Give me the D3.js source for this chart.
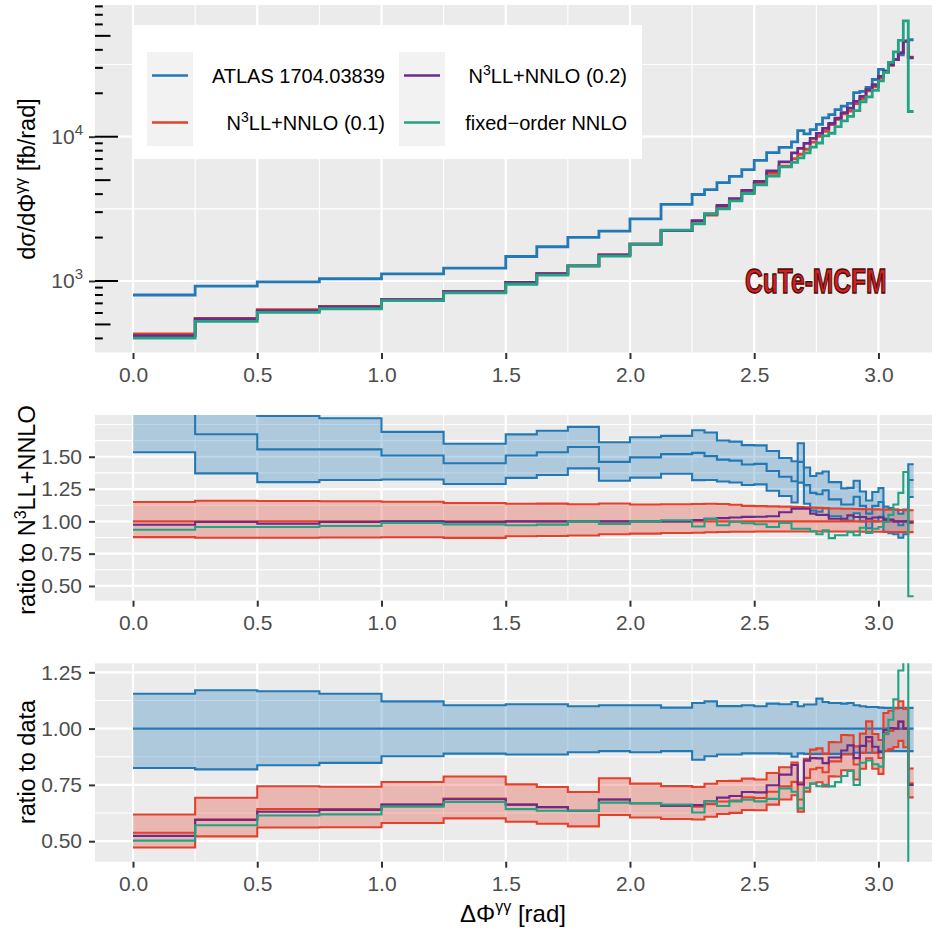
<!DOCTYPE html>
<html><head><meta charset="utf-8">
<script src="https://cdn.jsdelivr.net/npm/d3@7"></script>
<style>
body{margin:0;background:#fff}
svg{display:block}
text{font-family:"Liberation Sans",Arial,Helvetica,sans-serif}
</style>
</head><body>
<svg id="c" width="932" height="935"></svg>
<script>
// ---------- data ----------
const binEdges = [0,0.25,0.5,0.75,1.0,1.25,1.5,1.625,1.75,1.875,2.0,2.125,2.25,2.3,2.35,2.4,2.45,2.5,2.55,2.6,2.65,2.675,2.7,2.725,2.75,2.775,2.8,2.825,2.85,2.875,2.9,2.925,2.95,2.975,3.0,3.02,3.04,3.06,3.08,3.1,3.12,3.14159];
// N3LL+NNLO (0.1) cross section, fb/rad
const n3ll01 = [430,550,634,666,742,847,979,1125,1273,1517,1803,2233,2598,2860,3254,3607,4103,4738,5575,6262,7037,7557,8183,9184,10048,10886,12147,13167,14412,15077,16973,18385,20755,22252,25466,28026,31214,34260,38130,46000,35600];
// ATLAS data / N3LL+NNLO (0.1)
const atlasRatio = [1.86,1.674,1.557,1.557,1.51,1.45,1.51,1.535,1.575,1.46,1.495,1.52,1.53,1.505,1.478,1.47,1.44,1.445,1.39,1.345,1.31,1.46,1.28,1.22,1.21,1.24,1.17,1.17,1.13,1.13,1.19,1.12,1.06,1.12,1.15,1.02,1.01,1.0,0.97,1.0,1.32];
// N3LL+NNLO (0.2) / N3LL+NNLO (0.1)
const n3ll02Ratio = [0.974,0.995,0.982,0.995,1.0,0.995,1.0,1.0,1.0,1.0,1.0,1.0,1.01,1.02,1.025,1.03,1.035,1.036,1.04,1.07,1.098,1.098,1.098,1.06,1.05,1.05,1.02,1.02,1.02,1.046,1.034,1.034,1.02,1.03,1.03,1.013,1.013,1.0,1.0,1.0,0.99];
// fixed-order NNLO / N3LL+NNLO (0.1)
const nnloRatio = [0.935,0.956,0.956,0.964,0.987,0.977,0.97,0.975,1.0,0.98,1.0,1.008,0.96,1.02,0.97,0.995,0.985,0.978,0.956,0.987,0.943,0.943,0.943,0.923,0.90,0.93,0.87,0.892,0.892,0.917,0.892,0.95,0.91,0.943,0.956,0.995,1.05,1.13,1.22,1.382,0.42];
// ATLAS relative uncertainty band
const atlasUp = [1.155,1.17,1.166,1.155,1.121,1.104,1.108,1.108,1.099,1.104,1.104,1.093,1.114,1.121,1.10,1.10,1.104,1.099,1.111,1.108,1.118,1.099,1.107,1.107,1.133,1.118,1.114,1.114,1.111,1.114,1.104,1.099,1.096,1.096,1.093,1.092,1.092,1.092,1.092,1.092,1.092];
const atlasDown = [0.825,0.819,0.837,0.848,0.877,0.889,0.885,0.885,0.895,0.90,0.895,0.90,0.862,0.877,0.885,0.885,0.89,0.89,0.89,0.889,0.875,0.89,0.888,0.888,0.888,0.888,0.888,0.888,0.888,0.888,0.893,0.893,0.893,0.893,0.90,0.90,0.90,0.90,0.90,0.90,0.90];
// N3LL+NNLO (0.1) relative scale-uncertainty band
const n3llUp = [1.15,1.16,1.158,1.155,1.152,1.142,1.136,1.137,1.132,1.138,1.13,1.132,1.134,1.136,1.134,1.129,1.12,1.118,1.116,1.114,1.112,1.11,1.108,1.106,1.104,1.102,1.1,1.099,1.098,1.097,1.096,1.095,1.094,1.093,1.092,1.091,1.09,1.089,1.088,1.087,1.086];
const n3llDown = [0.878,0.873,0.873,0.875,0.877,0.872,0.885,0.887,0.891,0.9,0.905,0.91,0.912,0.916,0.918,0.92,0.92,0.921,0.921,0.922,0.922,0.922,0.922,0.922,0.922,0.922,0.922,0.921,0.921,0.921,0.921,0.92,0.92,0.92,0.919,0.919,0.918,0.918,0.917,0.917,0.917];

const seriesNames = ["ATLAS 1704.03839","N3LL+NNLO (0.1)","N3LL+NNLO (0.2)","fixed\u2212order NNLO"];
const xTicks = [0,0.5,1.0,1.5,2.0,2.5,3.0];
const xMinor = [0.25,0.75,1.25,1.75,2.25,2.75,3.25];
const topTicks = [1000,10000];
const topMinor = [Math.pow(10,2.5),Math.pow(10,3.5),Math.pow(10,4.5)];
const midTicks = [0.5,0.75,1.0,1.25,1.5];
const midMinor = [0.625,0.875,1.125,1.375,1.625,1.75];
const botTicks = [0.5,0.75,1.0,1.25];
const botMinor = [0.625,0.875,1.125];

// ---------- styles ----------
const cBlue="#2279B5", cRed="#E5402C", cPurple="#6B2B88", cGreen="#22A384";
const FONT='"Liberation Sans",Arial,Helvetica,sans-serif';
const svg=d3.select('#c');
const PL=95, PR=932;
const x=d3.scaleLinear().domain([-0.153,3.3]).range([95,953]);
const panels={
  top:{t:5,b:353,y:d3.scaleLog().domain([317,81800]).range([353,5])},
  mid:{t:415,b:600.7,y:d3.scaleLinear().domain([0.386,1.823]).range([600.7,415])},
  bot:{t:663.3,b:861.7,y:d3.scaleLinear().domain([0.409,1.29]).range([861.7,663.3])}
};

// derived series
const atlasAbs = n3ll01.map((v,i)=>v*atlasRatio[i]);
const n3ll02Abs = n3ll01.map((v,i)=>v*n3ll02Ratio[i]);
const nnloAbs = n3ll01.map((v,i)=>v*nnloRatio[i]);

function stepPts(vals){const p=[];vals.forEach((v,i)=>{p.push([binEdges[i],v]);p.push([binEdges[i+1],v]);});return p;}
function bandPts(lo,hi){const p=[];lo.forEach((v,i)=>{p.push([binEdges[i],v,hi[i]]);p.push([binEdges[i+1],v,hi[i]]);});return p;}

const defs=svg.append('defs');
function setupPanel(key,yMaj,yMin){
  const P=panels[key];
  defs.append('clipPath').attr('id','clip-'+key).append('rect')
    .attr('x',PL).attr('y',P.t).attr('width',PR-PL).attr('height',P.b-P.t);
  const g=svg.append('g');
  g.append('rect').attr('x',PL).attr('y',P.t).attr('width',PR-PL).attr('height',P.b-P.t).attr('fill','#EBEBEB');
  const grid=g.append('g').attr('clip-path',`url(#clip-${key})`);
  yMin.forEach(v=>grid.append('line').attr('x1',PL).attr('x2',PR).attr('y1',P.y(v)).attr('y2',P.y(v)).attr('stroke','#fff').attr('stroke-width',1.1));
  xMinor.forEach(v=>grid.append('line').attr('x1',x(v)).attr('x2',x(v)).attr('y1',P.t).attr('y2',P.b).attr('stroke','#fff').attr('stroke-width',1.1));
  yMaj.forEach(v=>grid.append('line').attr('x1',PL).attr('x2',PR).attr('y1',P.y(v)).attr('y2',P.y(v)).attr('stroke','#fff').attr('stroke-width',2.2));
  xTicks.forEach(v=>grid.append('line').attr('x1',x(v)).attr('x2',x(v)).attr('y1',P.t).attr('y2',P.b).attr('stroke','#fff').attr('stroke-width',2.2));
  const data=svg.append('g').attr('clip-path',`url(#clip-${key})`);
  const ax=svg.append('g').attr('transform',`translate(0,${P.b})`)
    .call(d3.axisBottom(x).tickValues(xTicks).tickFormat(d3.format('.1f')).tickSize(6).tickPadding(8));
  styleAxis(ax);
  return {g,data,P};
}
function styleAxis(ax){
  ax.attr('font-size',21).attr('font-family',FONT);
  ax.select('.domain').remove();
  ax.selectAll('.tick line').attr('stroke','#333').attr('stroke-width',2);
  ax.selectAll('.tick text').attr('fill','#4D4D4D');
}
function drawLine(g,P,vals,color,w){
  g.append('path').datum(stepPts(vals)).attr('fill','none').attr('stroke',color).attr('stroke-width',w)
   .attr('d',d3.line().x(d=>x(d[0])).y(d=>P.y(d[1])));
}
function drawBand(g,P,lo,hi,color){
  g.append('path').datum(bandPts(lo,hi)).attr('fill',color).attr('fill-opacity',0.3).attr('stroke','none')
   .attr('d',d3.area().x(d=>x(d[0])).y0(d=>P.y(d[1])).y1(d=>P.y(d[2])));
}
function richText(t,parts,supSize,raise){
  let up=false;
  parts.forEach(p=>{
    const s=t.append('tspan').text(p.t);
    if(p.sup){s.attr('font-size',supSize).attr('dy',-raise);up=true;}
    else if(up){s.attr('dy',raise);up=false;}
  });
}

// ---------- top panel ----------
const topPanel=setupPanel('top',topTicks,topMinor);
{
  const P=topPanel.P;
  for(let e=2;e<=5;e++){for(let k=1;k<=9;k++){const v=k*Math.pow(10,e);
    if(v<317||v>81800) continue;
    const len=k===1?23:(k===5?15.5:7.8);
    topPanel.g.append('line').attr('x1',PL).attr('x2',PL+len).attr('y1',P.y(v)).attr('y2',P.y(v)).attr('stroke','#000').attr('stroke-width',2);
  }}
  drawLine(topPanel.data,P,atlasAbs,cBlue,2.8);
  drawLine(topPanel.data,P,n3ll01,cRed,2.8);
  drawLine(topPanel.data,P,n3ll02Abs,cPurple,2.8);
  drawLine(topPanel.data,P,nnloAbs,cGreen,2.8);
  const ay=svg.append('g').attr('transform',`translate(${PL},0)`)
    .call(d3.axisLeft(P.y).tickValues(topTicks).tickFormat('').tickSize(6).tickPadding(7));
  styleAxis(ay);
  ay.selectAll('.tick').each(function(d){
    const t=d3.select(this).append('text').attr('x',-12).attr('dy','0.32em').attr('text-anchor','end').attr('fill','#4D4D4D');
    richText(t,[{t:'10'},{t:String(Math.round(Math.log10(d))),sup:1}],15,9);
  });
  svg.append('text').attr('transform','translate(745,293) scale(0.82,1.16)')
    .attr('font-size',30).attr('font-weight','bold')
    .attr('fill','#D91E1E').attr('stroke','#4a0c0c').attr('stroke-width',1.2).text('CuTe-MCFM');
}

// ---------- middle panel ----------
const midPanel=setupPanel('mid',midTicks,midMinor);
{
  const P=midPanel.P, g=midPanel.data;
  const aUp=atlasRatio.map((v,i)=>v*atlasUp[i]), aLo=atlasRatio.map((v,i)=>v*atlasDown[i]);
  const ones=n3ll01.map(()=>1);
  drawBand(g,P,aLo,aUp,cBlue);
  drawBand(g,P,n3llDown,n3llUp,cRed);
  drawLine(g,P,aUp,cBlue,2.1);drawLine(g,P,aLo,cBlue,2.1);drawLine(g,P,atlasRatio,cBlue,2.1);
  drawLine(g,P,n3llUp,cRed,2.1);drawLine(g,P,n3llDown,cRed,2.1);drawLine(g,P,ones,cRed,2.1);
  drawLine(g,P,n3ll02Ratio,cPurple,2.1);
  drawLine(g,P,nnloRatio,cGreen,2.1);
  const ay=svg.append('g').attr('transform',`translate(${PL},0)`)
    .call(d3.axisLeft(P.y).tickValues(midTicks).tickFormat(d3.format('.2f')).tickSize(6).tickPadding(7));
  styleAxis(ay);
}

// ---------- bottom panel ----------
const botPanel=setupPanel('bot',botTicks,botMinor);
{
  const P=botPanel.P, g=botPanel.data;
  const ones=n3ll01.map(()=>1);
  const tc=atlasRatio.map(v=>1/v);
  const tUp=tc.map((v,i)=>v*n3llUp[i]), tLo=tc.map((v,i)=>v*n3llDown[i]);
  const p2=n3ll02Ratio.map((v,i)=>v/atlasRatio[i]);
  const fo=nnloRatio.map((v,i)=>v/atlasRatio[i]);
  drawBand(g,P,atlasDown,atlasUp,cBlue);
  drawBand(g,P,tLo,tUp,cRed);
  drawLine(g,P,atlasUp,cBlue,2.1);drawLine(g,P,atlasDown,cBlue,2.1);drawLine(g,P,ones,cBlue,2.1);
  drawLine(g,P,tUp,cRed,2.1);drawLine(g,P,tLo,cRed,2.1);drawLine(g,P,tc,cRed,2.1);
  drawLine(g,P,p2,cPurple,2.1);
  drawLine(g,P,fo,cGreen,2.1);
  const ay=svg.append('g').attr('transform',`translate(${PL},0)`)
    .call(d3.axisLeft(P.y).tickValues(botTicks).tickFormat(d3.format('.2f')).tickSize(6).tickPadding(7));
  styleAxis(ay);
}

// ---------- titles ----------
function yTitle(cy,parts){
  const t=svg.append('text').attr('transform',`translate(35,${cy}) rotate(-90)`).attr('text-anchor','middle')
    .attr('font-size',23.5).attr('fill','#000');
  richText(t,parts,16,9);
}
yTitle(179,[{t:'d\u03C3/d\u03A6'},{t:'\u03B3\u03B3',sup:1},{t:' [fb/rad]'}]);
yTitle(510,[{t:'ratio to N'},{t:'3',sup:1},{t:'LL+NNLO'}]);
yTitle(762,[{t:'ratio to data'}]);
{
  const t=svg.append('text').attr('x',513).attr('y',922).attr('text-anchor','middle').attr('font-size',24).attr('fill','#000');
  richText(t,[{t:'\u0394\u03A6'},{t:'\u03B3\u03B3',sup:1},{t:' [rad]'}],16,10);
}

// ---------- legend ----------
{
  const lg=svg.append('g');
  lg.append('rect').attr('x',133).attr('y',25).attr('width',509).attr('height',134).attr('fill','#fff');
  const cols=[{kx:147,tx:385},{kx:399,tx:627}];
  const rows=[52,99];
  const colors=[cBlue,cRed,cPurple,cGreen];
  seriesNames.forEach((name,i)=>{
    const c=cols[Math.floor(i/2)], r=rows[i%2];
    lg.append('rect').attr('x',c.kx).attr('y',r).attr('width',46).attr('height',47).attr('fill','#F2F2F2');
    lg.append('line').attr('x1',c.kx+5).attr('x2',c.kx+41).attr('y1',r+23.5).attr('y2',r+23.5).attr('stroke',colors[i]).attr('stroke-width',2.6);
    const t=lg.append('text').attr('x',c.tx).attr('y',r+31).attr('text-anchor','end').attr('font-size',20).attr('fill','#000');
    if(name.startsWith('N3')) richText(t,[{t:'N'},{t:'3',sup:1},{t:name.slice(2)}],14,8);
    else t.text(name);
  });
}
</script>
</body></html>
